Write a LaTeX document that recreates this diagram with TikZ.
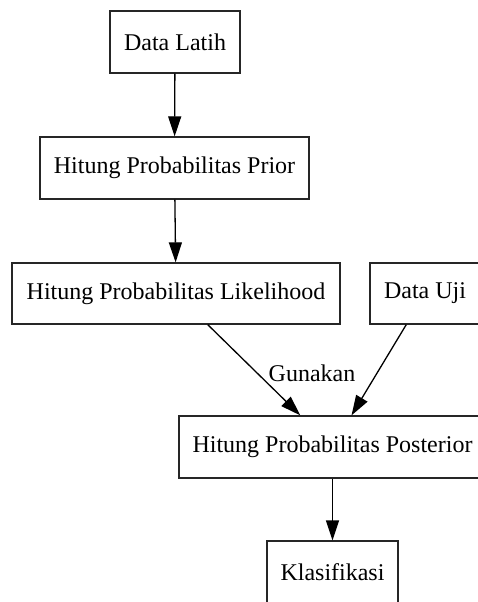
\documentclass[tikz,border=0pt]{standalone}
\usepackage{fontspec}
\setmainfont{Liberation Serif}
\usetikzlibrary{arrows.meta}
\begin{document}
\begin{tikzpicture}[x=1pt,y=-1pt,
  box/.style={draw=black!85, line width=1.3pt, rectangle, inner sep=0pt, font=\fontsize{24}{28}\selectfont},
  edge/.style={draw=black, line width=1.3pt, -{Triangle[length=20pt,width=13pt]}},
  lbl/.style={font=\fontsize{24}{28}\selectfont, inner sep=0pt}]
\fill[white] (0,0) rectangle (477,602);
\useasboundingbox (0,0) rectangle (477,602);
\node[box, minimum width=130pt, minimum height=62pt] (latih) at (175,42) {Data Latih};
\node[box, minimum width=269pt, minimum height=62pt] (prior) at (174.5,168) {Hitung Probabilitas Prior};
\node[box, minimum width=328pt, minimum height=61pt] (like) at (176,293.5) {Hitung Probabilitas Likelihood};
\node[box, minimum width=110pt, minimum height=61pt] (uji) at (425,293.5) {Data Uji};
\node[box, minimum width=307pt, minimum height=62pt] (post) at (332.5,447) {Hitung Probabilitas Posterior};
\node[box, minimum width=131pt, minimum height=62pt] (klas) at (332.5,572) {Klasifikasi};
\draw[edge] (latih) -- (prior);
\draw[edge] (prior) -- (like);
\draw[edge] (like) -- node[lbl, xshift=58pt, yshift=-3pt] (gun) {Gunakan} (post);
\draw[edge] (uji) -- (post);
\draw[edge] (post) -- (klas);
\end{tikzpicture}
\end{document}
